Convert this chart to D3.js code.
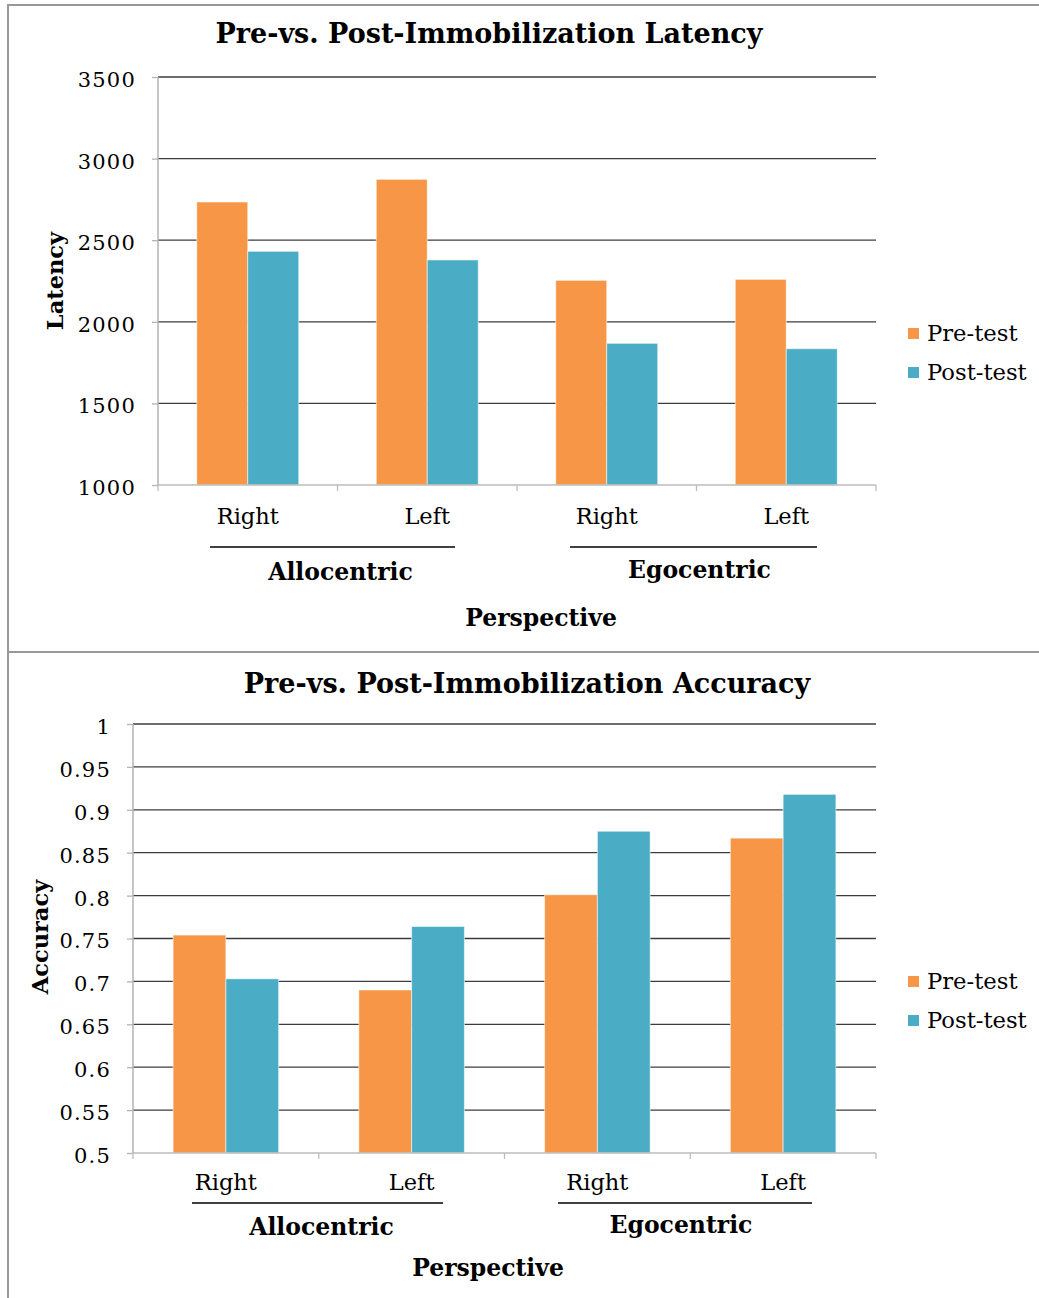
<!DOCTYPE html>
<html>
<head>
<meta charset="utf-8">
<script src="https://cdn.jsdelivr.net/npm/d3@7/dist/d3.min.js"></script>
<style>
  html, body { margin: 0; padding: 0; background: #fff; }
  svg { display: block; }
  text { font-family: "DejaVu Serif", "Liberation Serif", serif; fill: #000; }
</style>
</head>
<body>
<svg id="chart" width="1039" height="1298"></svg>
<script>
// Categories: each perspective has a Right and a Left condition
const perspectives = ["Allocentric", "Egocentric"];
const sides = ["Right", "Left"];
const series = ["Pre-test", "Post-test"];
const colors = ["#F79646", "#4BACC6"];

// Mean latency per condition (order: Allo-Right, Allo-Left, Ego-Right, Ego-Left)
const latencyPre  = [2734, 2873, 2254, 2260];
const latencyPost = [2432, 2379, 1868, 1835];
const latencyTicks = [1000, 1500, 2000, 2500, 3000, 3500];

// Mean accuracy per condition
const accuracyPre  = [0.754, 0.690, 0.801, 0.867];
const accuracyPost = [0.703, 0.764, 0.875, 0.918];
const accuracyTicks = [0.5, 0.55, 0.6, 0.65, 0.7, 0.75, 0.8, 0.85, 0.9, 0.95, 1];
const accuracyTickLabels = ["0.5", "0.55", "0.6", "0.65", "0.7", "0.75", "0.8", "0.85", "0.9", "0.95", "1"];

const svg = d3.select("#chart");

// Panel frames
svg.append("path")
  .attr("d", "M1040,5 H8 V652 H1040")
  .attr("fill", "none").attr("stroke", "#999").attr("stroke-width", 2);
svg.append("path")
  .attr("d", "M8,652 V1299")
  .attr("fill", "none").attr("stroke", "#999").attr("stroke-width", 2);

function drawChart(cfg) {
  const g = svg.append("g");
  const keys = [];
  perspectives.forEach(p => sides.forEach(s => keys.push(p + "|" + s)));
  const rows = keys.map((k, i) => ({ key: k, side: k.split("|")[1], values: [cfg.pre[i], cfg.post[i]] }));

  const x0 = d3.scaleBand().domain(keys).range([cfg.left, cfg.right]).padding(0);
  const x1 = d3.scaleBand().domain(series).range([0, x0.bandwidth()]).paddingInner(0).paddingOuter(0.76);
  const y = d3.scaleLinear().domain(cfg.domain).range([cfg.bottom, cfg.top]);

  // Title
  g.append("text").attr("x", cfg.titleX).attr("y", cfg.titleY)
    .attr("text-anchor", "middle").attr("font-size", 27).attr("font-weight", "bold")
    .text(cfg.title);

  // Horizontal gridlines (skip baseline)
  g.append("g").selectAll("line").data(cfg.ticks.filter(t => t !== cfg.domain[0])).join("line")
    .attr("x1", cfg.left).attr("x2", cfg.right)
    .attr("y1", d => y(d)).attr("y2", d => y(d))
    .attr("stroke", "#3c3c3c").attr("stroke-width", 1.3);

  // Y axis
  const yAxis = d3.axisLeft(y).tickValues(cfg.ticks).tickSize(6).tickPadding(16)
    .tickFormat((d, i) => cfg.tickLabels ? cfg.tickLabels[i] : d);
  const ya = g.append("g").attr("transform", `translate(${cfg.left},0)`).call(yAxis);
  ya.select(".domain").attr("stroke", "#b3b3b3").attr("stroke-width", 1.5).attr("d", `M0,${cfg.bottom}V${cfg.top}`);
  ya.selectAll(".tick line").attr("stroke", "#b3b3b3").attr("stroke-width", 1.3);
  ya.selectAll(".tick text").attr("font-size", 21).attr("letter-spacing", 1.2).attr("dy", "0.45em")
    .attr("font-family", "DejaVu Serif, serif").attr("fill", "#000");

  // Bars
  g.append("g").selectAll("g").data(rows).join("g")
    .attr("transform", d => `translate(${x0(d.key)},0)`)
    .selectAll("rect").data(d => d.values.map((v, i) => ({ s: series[i], v, i }))).join("rect")
    .attr("x", d => x1(d.s)).attr("width", x1.bandwidth())
    .attr("y", d => y(d.v)).attr("height", d => cfg.bottom - y(d.v))
    .attr("fill", d => colors[d.i])
    .attr("stroke", "rgba(255,255,255,0.55)").attr("stroke-width", 1);

  // X axis baseline with category separators
  g.append("line").attr("x1", cfg.left).attr("x2", cfg.right)
    .attr("y1", cfg.bottom).attr("y2", cfg.bottom)
    .attr("stroke", "#bdbdbd").attr("stroke-width", 1.5);
  const sepX = keys.map(k => x0(k)).concat([cfg.right]);
  g.append("g").selectAll("line").data(sepX).join("line")
    .attr("x1", d => d).attr("x2", d => d)
    .attr("y1", cfg.bottom).attr("y2", cfg.bottom + 6)
    .attr("stroke", "#bdbdbd").attr("stroke-width", 1.3);

  // Side labels, centred under each category
  g.append("g").selectAll("text").data(rows).join("text")
    .attr("x", d => x0(d.key) + x0.bandwidth() / 2)
    .attr("y", cfg.sideY)
    .attr("text-anchor", "middle").attr("font-size", 22.5)
    .text(d => d.side);

  // Perspective group lines and labels
  perspectives.forEach((p, i) => {
    const gl = cfg.groupLines[i];
    g.append("line").attr("x1", gl[0]).attr("x2", gl[1])
      .attr("y1", cfg.groupLineY).attr("y2", cfg.groupLineY)
      .attr("stroke", "#000").attr("stroke-width", 1.6);
    g.append("text").attr("x", (gl[0] + gl[1]) / 2 + cfg.groupLabelShift[i]).attr("y", cfg.groupLabelY[i])
      .attr("text-anchor", "middle").attr("font-size", 23.5).attr("font-weight", "bold")
      .text(p);
  });

  // Axis titles
  g.append("text").attr("x", cfg.xTitleX).attr("y", cfg.xTitleY)
    .attr("text-anchor", "middle").attr("font-size", 23.5).attr("font-weight", "bold")
    .text("Perspective");
  g.append("text")
    .attr("transform", `translate(${cfg.yTitleX},${cfg.yTitleY}) rotate(-90)`)
    .attr("text-anchor", "middle").attr("font-size", 22.5).attr("font-weight", "bold")
    .text(cfg.yTitle);

  // Legend
  series.forEach((s, i) => {
    const ly = cfg.legendY + i * 39;
    g.append("rect").attr("x", 908).attr("y", ly - 5).attr("width", 11).attr("height", 11).attr("fill", colors[i]);
    g.append("text").attr("x", 927).attr("y", ly + 8).attr("font-size", 22.7).text(s);
  });
}

drawChart({
  title: "Pre-vs. Post-Immobilization Latency", titleX: 489, titleY: 43,
  left: 158, right: 876, top: 77, bottom: 485,
  domain: [1000, 3500], ticks: latencyTicks,
  pre: latencyPre, post: latencyPost,
  sideY: 524,
  groupLines: [[210, 455], [570, 817]], groupLineY: 547,
  groupLabelShift: [8, 6], groupLabelY: [580, 578],
  xTitleX: 541, xTitleY: 626,
  yTitle: "Latency", yTitleX: 63, yTitleY: 281,
  legendY: 333
});

drawChart({
  title: "Pre-vs. Post-Immobilization Accuracy", titleX: 527, titleY: 693,
  left: 133, right: 876, top: 724, bottom: 1153,
  domain: [0.5, 1], ticks: accuracyTicks, tickLabels: accuracyTickLabels,
  pre: accuracyPre, post: accuracyPost,
  sideY: 1190,
  groupLines: [[192, 443], [558, 812]], groupLineY: 1203,
  groupLabelShift: [4, -4], groupLabelY: [1235, 1233],
  xTitleX: 488, xTitleY: 1276,
  yTitle: "Accuracy", yTitleX: 48, yTitleY: 937,
  legendY: 981
});
</script>
</body>
</html>
